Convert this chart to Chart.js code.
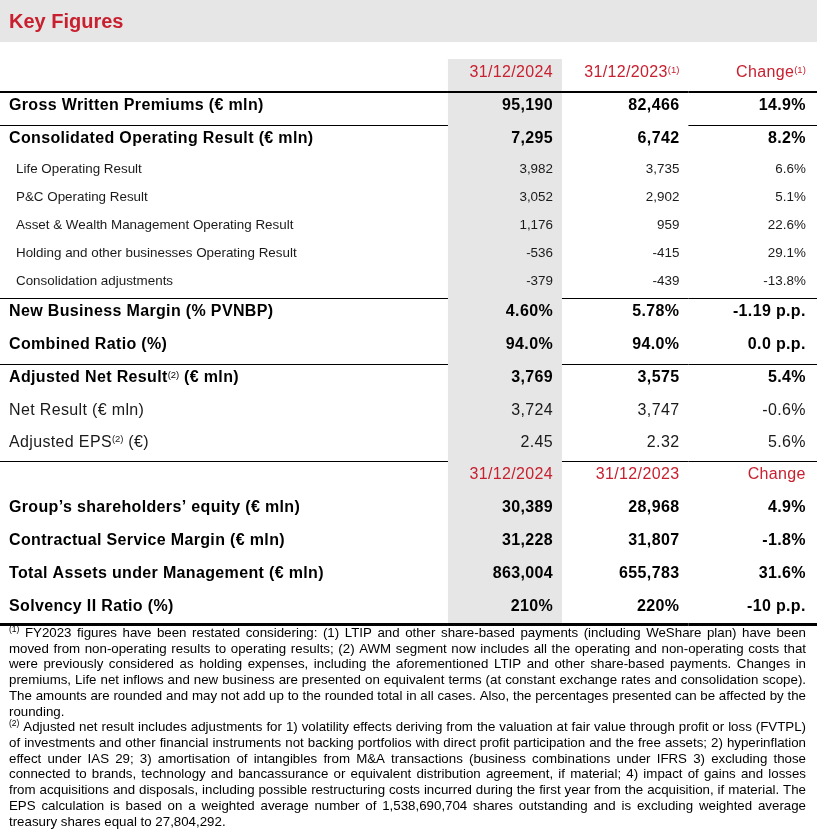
<!DOCTYPE html>
<html>
<head>
<meta charset="utf-8">
<script src="https://cdn.jsdelivr.net/npm/chart.js@4/dist/chart.umd.min.js"></script>
<style>
html,body{margin:0;padding:0;background:#fff;width:817px;height:829px;overflow:hidden}
#wrap{position:relative;width:817px;height:829px;overflow:hidden}
canvas{display:block}
</style>
</head>
<body>
<div id="wrap"><canvas id="c" width="821" height="829"></canvas></div>
<script>
// ---------------- data ----------------
const titleText = 'Key Figures';
const columnLabels = ['31/12/2024', '31/12/2023', 'Change'];
const headerMarks1 = ['', '(1)', '(1)'];
const headerMarks2 = ['', '', ''];

const rowLabels = [
  'Gross Written Premiums (€ mln)',
  'Consolidated Operating Result (€ mln)',
  'Life Operating Result',
  'P&C Operating Result',
  'Asset & Wealth Management Operating Result',
  'Holding and other businesses Operating Result',
  'Consolidation adjustments',
  'New Business Margin (% PVNBP)',
  'Combined Ratio (%)',
  'Adjusted Net Result^(2)^ (€ mln)',
  'Net Result (€ mln)',
  'Adjusted EPS^(2)^ (€)',
  'Group’s shareholders’ equity (€ mln)',
  'Contractual Service Margin (€ mln)',
  'Total Assets under Management (€ mln)',
  'Solvency II Ratio (%)'
];
const rowKinds = ['bold','bold','sub','sub','sub','sub','sub','bold','bold','bold','normal','normal','bold','bold','bold','bold'];
const sectionStarts = [0, 12];

const values2024 = [95190, 7295, 3982, 3052, 1176, -536, -379, 4.60, 94.0, 3769, 3724, 2.45, 30389, 31228, 863004, 210];
const values2023 = [82466, 6742, 3735, 2902, 959, -415, -439, 5.78, 94.0, 3575, 3747, 2.32, 28968, 31807, 655783, 220];
const changeValues = [14.9, 8.2, 6.6, 5.1, 22.6, 29.1, -13.8, -1.19, 0.0, 5.4, -0.6, 5.6, 4.9, -1.8, 31.6, -10];

const valueDecimals  = [0,0,0,0,0,0,0,2,1,0,0,2,0,0,0,0];
const valueUnits     = ['','','','','','','','%','%','','','','','','','%'];
const changeDecimals = [1,1,1,1,1,1,1,2,1,1,1,1,1,1,1,0];
const changeUnits    = ['%','%','%','%','%','%','%',' p.p.',' p.p.','%','%','%','%','%','%',' p.p.'];

const footnoteLines = [
  '^(1)^ FY2023 figures have been restated considering: (1) LTIP and other share-based payments (including WeShare plan) have been',
  'moved from non-operating results to operating results; (2) AWM segment now includes all the operating and non-operating costs that',
  'were previously considered as holding expenses, including the aforementioned LTIP and other share-based payments. Changes in',
  'premiums, Life net inflows and new business are presented on equivalent terms (at constant exchange rates and consolidation scope).',
  'The amounts are rounded and may not add up to the rounded total in all cases. Also, the percentages presented can be affected by the',
  'rounding.',
  '^(2)^ Adjusted net result includes adjustments for 1) volatility effects deriving from the valuation at fair value through profit or loss (FVTPL)',
  'of investments and other financial instruments not backing portfolios with direct profit participation and the free assets; 2) hyperinflation',
  'effect under IAS 29; 3) amortisation of intangibles from M&A transactions (business combinations under IFRS 3) excluding those',
  'connected to brands, technology and bancassurance or equivalent distribution agreement, if material; 4) impact of gains and losses',
  'from acquisitions and disposals, including possible restructuring costs incurred during the first year from the acquisition, if material. The',
  'EPS calculation is based on a weighted average number of 1,538,690,704 shares outstanding and is excluding weighted average',
  'treasury shares equal to 27,804,292.'
];
const footnoteJustify = [true,true,true,true,true,false,true,true,true,true,true,true,false];

// ---------------- styles / layout ----------------
const FONT = "'Liberation Sans', Arial, Helvetica, sans-serif";
const RED = '#c8202f';
const GRAY = '#e6e6e6';
const rowHeight = {header: 33, bold: 33, sub: 28, normal: 32};
const kindStyle = {
  bold:   {weight: 'bold',   size: 16, spacing: 0.35, color: '#000', labelX: 9},
  normal: {weight: 'normal', size: 16, spacing: 0.35, color: '#1a1a1a', labelX: 9},
  sub:    {weight: 'normal', size: 13.4, spacing: 0, color: '#1a1a1a', labelX: 16},
  header: {weight: 'normal', size: 16, spacing: 0.35, color: RED, labelX: 9}
};

// build display rows
const display = [];
rowLabels.forEach((lab, i) => {
  if (sectionStarts.includes(i)) display.push({type: 'header', marks: i === 0 ? headerMarks1 : headerMarks2});
  display.push({type: 'data', i});
});
let acc = 0;
display.forEach(r => {
  const h = rowHeight[r.type === 'header' ? 'header' : rowKinds[r.i]];
  r.top = acc; r.bottom = acc + h; r.center = acc + h / 2; acc += h;
});
const total = acc;

// rules: [display index after which, thickness, columns (0 label,1..3 values)]
const rules = [
  [0, 2, [0,1,2,3]],
  [1, 1, [0,3]],
  [7, 1, [0,2,3]],
  [9, 1, [0,2,3]],
  [12, 1, [0,2,3]],
  [17, 3, [0,1,2,3]]
];

function fmt(v, d) {
  return v.toLocaleString('en-US', {minimumFractionDigits: d, maximumFractionDigits: d});
}

function parts(text) {
  return text.split('^').map((t, k) => ({t, sup: k % 2 === 1})).filter(p => p.t.length);
}

function drawRich(ctx, text, x, baseline, align, st) {
  const ps = parts(text);
  const supSize = 9.5;
  const widths = ps.map(p => {
    if (p.sup) { ctx.font = `normal ${supSize}px ${FONT}`; ctx.letterSpacing = '0px'; }
    else { ctx.font = `${st.weight} ${st.size}px ${FONT}`; ctx.letterSpacing = st.spacing + 'px'; }
    return ctx.measureText(p.t).width;
  });
  const w = widths.reduce((a, b) => a + b, 0);
  let cx = align === 'right' ? x - w : x;
  ctx.textAlign = 'left';
  ctx.textBaseline = 'alphabetic';
  ctx.fillStyle = st.color;
  ps.forEach((p, k) => {
    if (p.sup) { ctx.font = `normal ${supSize}px ${FONT}`; ctx.letterSpacing = '0px'; ctx.fillText(p.t, cx, baseline - 4.5); }
    else { ctx.font = `${st.weight} ${st.size}px ${FONT}`; ctx.letterSpacing = st.spacing + 'px'; ctx.fillText(p.t, cx, baseline); }
    cx += widths[k];
  });
  ctx.letterSpacing = '0px';
}

const tablePlugin = {
  id: 'keyFiguresTable',
  beforeDraw(chart) {
    const ctx = chart.ctx;
    ctx.save();
    ctx.fillStyle = '#fff';
    ctx.fillRect(0, 0, chart.width, chart.height);
    ctx.fillStyle = GRAY;
    ctx.fillRect(0, 0, 817, 42);
    ctx.fillStyle = RED;
    ctx.font = `bold 20px ${FONT}`;
    ctx.textBaseline = 'alphabetic';
    ctx.textAlign = 'left';
    ctx.fillText(titleText, 9, 28);
    ctx.restore();
  },
  afterDatasetsDraw(chart) {
    const ctx = chart.ctx;
    const xs = chart.scales.x, ys = chart.scales.y;
    const colRight = k => xs.getPixelForValue(k) + 57;   // column right edge
    const textRight = k => xs.getPixelForValue(k) + 48;  // value right edge
    const bar = chart.getDatasetMeta(0).data[0];
    const grayL = bar.x - bar.width / 2, grayR = bar.x + bar.width / 2;
    const colSpan = c => c === 0 ? [0, grayL] : c === 1 ? [grayL, grayR] : c === 2 ? [grayR, colRight(1)] : [colRight(1), 817];
    ctx.save();
    // rules
    ctx.fillStyle = '#000';
    rules.forEach(([di, w, cols]) => {
      const y = ys.getPixelForValue(display[di].bottom);
      const y0 = w === 3 ? y - 3 : Math.round(y - w / 2);
      cols.forEach(c => {
        const [a, b] = colSpan(c);
        ctx.fillRect(a, y0, b - a, w);
      });
    });
    // rows
    display.forEach(r => {
      const cy = ys.getPixelForValue(r.center) - 4;
      if (r.type === 'header') {
        const st = kindStyle.header;
        const bl = cy + 0.36 * st.size;
        columnLabels.forEach((lab, k) => {
          const txt = r.marks[k] ? lab + '^' + r.marks[k] + '^' : lab;
          drawRich(ctx, txt, textRight(k), bl, 'right', st);
        });
      } else {
        const i = r.i;
        const st = kindStyle[rowKinds[i]];
        const bl = cy + 0.36 * st.size;
        drawRich(ctx, rowLabels[i], st.labelX, bl, 'left', st);
        drawRich(ctx, fmt(values2024[i], valueDecimals[i]) + valueUnits[i], textRight(0), bl, 'right', st);
        drawRich(ctx, fmt(values2023[i], valueDecimals[i]) + valueUnits[i], textRight(1), bl, 'right', st);
        drawRich(ctx, fmt(changeValues[i], changeDecimals[i]) + changeUnits[i], textRight(2), bl, 'right', st);
      }
    });
    ctx.restore();
  },
  afterDraw(chart) {
    const ctx = chart.ctx;
    ctx.save();
    const size = 13.3, left = 9, right = 806, base0 = 637, lh = 15.72;
    ctx.fillStyle = '#000';
    ctx.textBaseline = 'alphabetic';
    ctx.textAlign = 'left';
    footnoteLines.forEach((line, li) => {
      const y = base0 + li * lh;
      const words = line.split(' ').map(w => {
        const sup = /^\^.*\^$/.test(w);
        const t = sup ? w.slice(1, -1) : w;
        ctx.font = sup ? `normal 8.5px ${FONT}` : `normal ${size}px ${FONT}`;
        return {t, sup, w: ctx.measureText(t).width};
      });
      ctx.font = `normal ${size}px ${FONT}`;
      const space = ctx.measureText(' ').width;
      const sum = words.reduce((a, b) => a + b.w, 0);
      let gap = space;
      if (footnoteJustify[li] && words.length > 1) gap = (right - left - sum) / (words.length - 1);
      let x = left;
      words.forEach(wd => {
        if (wd.sup) { ctx.font = `normal 8.5px ${FONT}`; ctx.fillText(wd.t, x, y - 5); }
        else { ctx.font = `normal ${size}px ${FONT}`; ctx.fillText(wd.t, x, y); }
        x += wd.w + gap;
      });
    });
    ctx.restore();
  }
};

new Chart(document.getElementById('c').getContext('2d'), {
  type: 'bar',
  data: {
    labels: columnLabels,
    datasets: [{
      label: 'highlight',
      data: [[0, total], null, null],
      backgroundColor: GRAY,
      borderWidth: 0,
      barPercentage: 0.9018,
      categoryPercentage: 1
    }]
  },
  options: {
    responsive: false,
    animation: false,
    devicePixelRatio: 1,
    events: [],
    layout: {padding: {left: 441.75, right: 0, top: 59, bottom: 829 - 59 - total}},
    scales: {
      x: {display: false, offset: true},
      y: {display: false, reverse: true, min: 0, max: total}
    },
    plugins: {legend: {display: false}, tooltip: {enabled: false}, title: {display: false}}
  },
  plugins: [tablePlugin]
});
</script>
</body>
</html>
